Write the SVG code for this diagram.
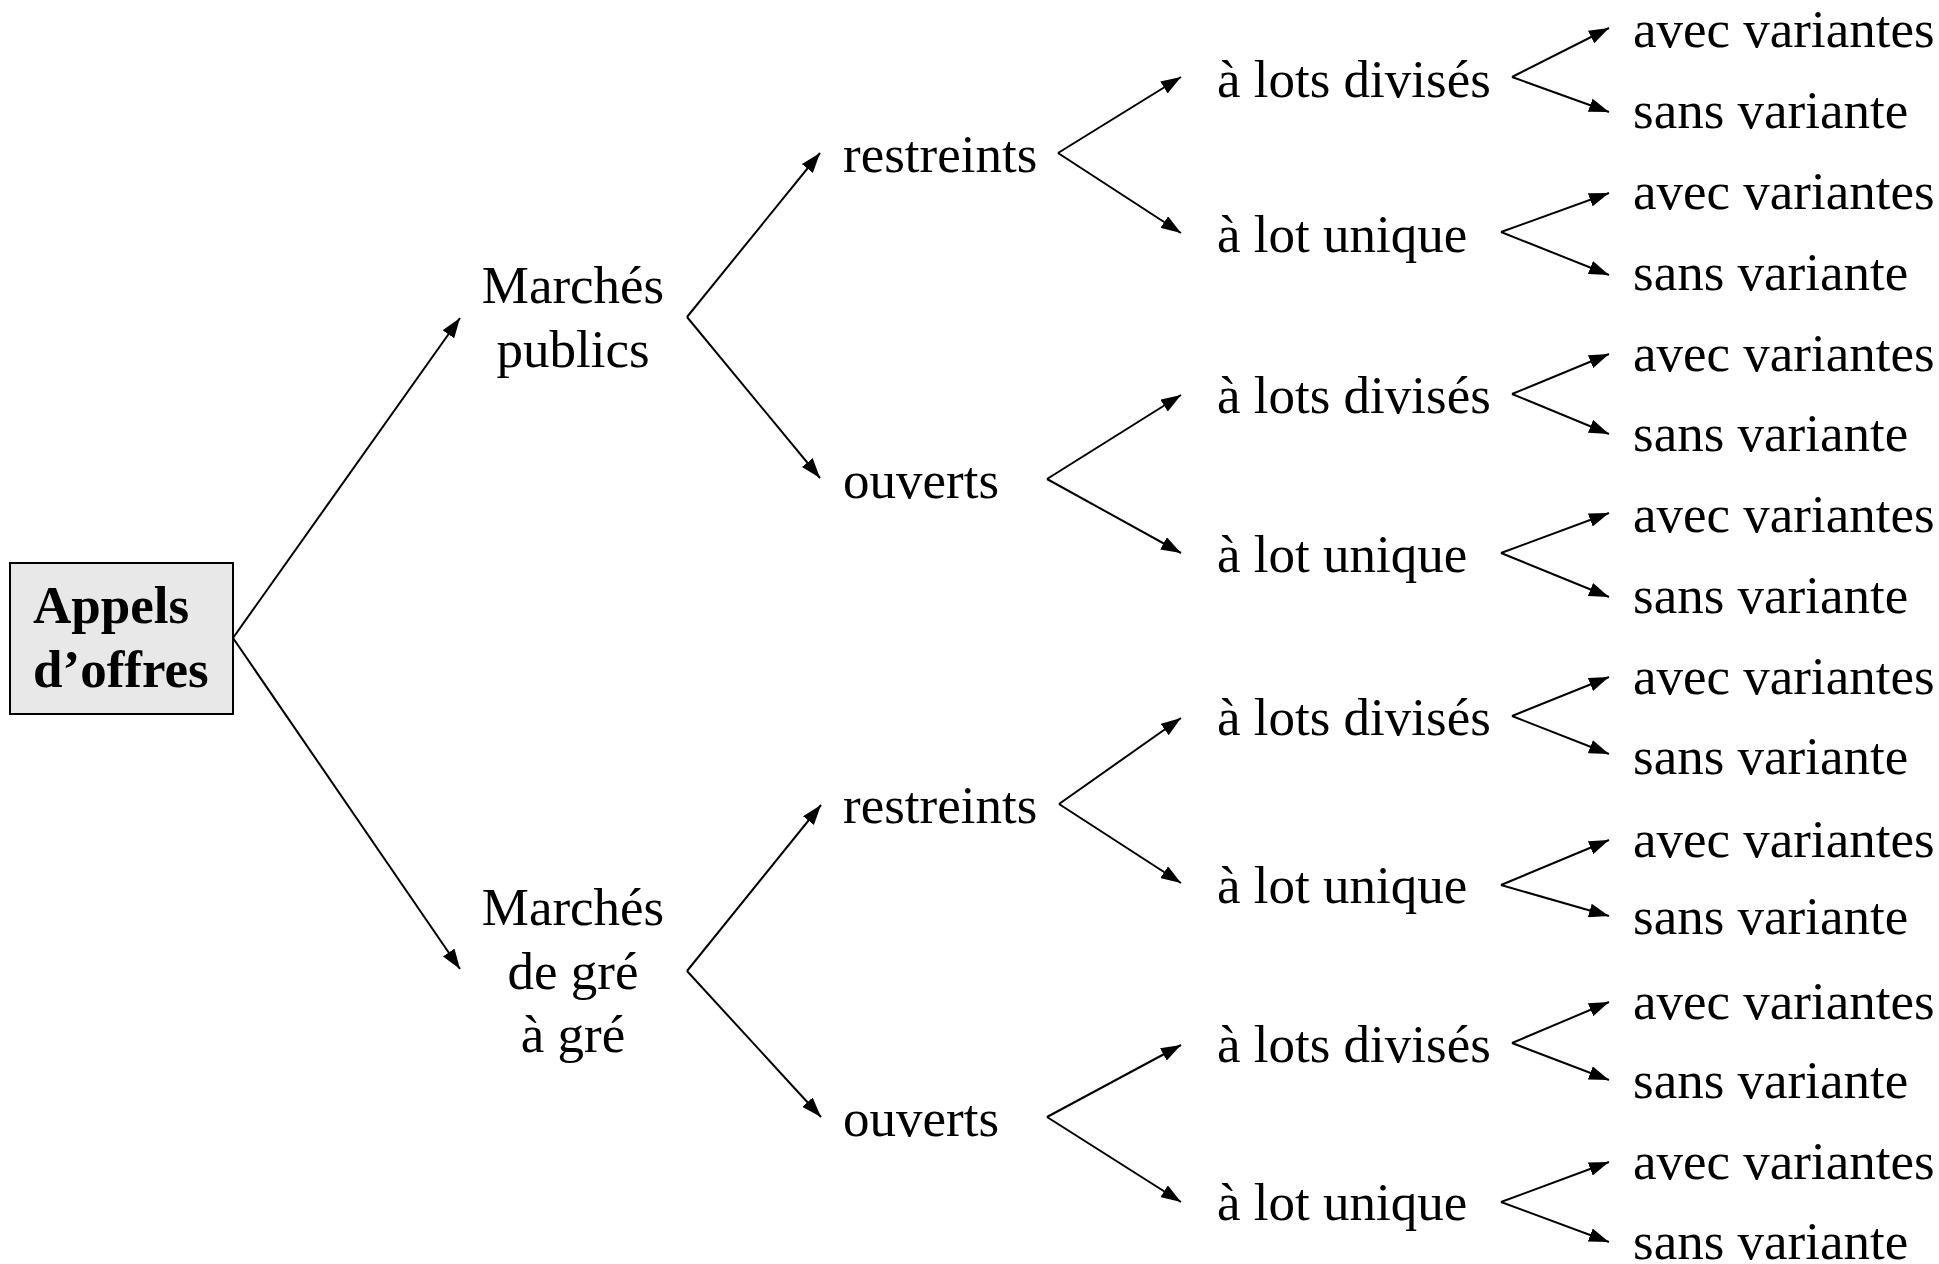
<svg xmlns="http://www.w3.org/2000/svg" width="1939" height="1264" viewBox="0 0 1939 1264">
  <style>
    text { font-family: "Liberation Serif", "Times New Roman", serif; font-size: 53px; fill: #000; }
    .title { font-weight: bold; }
    .mid { text-anchor: middle; }
    .conn line { stroke: #000; stroke-width: 2; marker-end: url(#arrow); }
  </style>
  <defs>
    <marker id="arrow" markerUnits="userSpaceOnUse" markerWidth="20" markerHeight="14" refX="20" refY="7" orient="auto">
      <path d="M0,0 L20,7 L0,14 z" fill="#000"/>
    </marker>
  </defs>
  <rect width="1939" height="1264" fill="#fff"/>

  <!-- root -->
  <g id="appels-offres">
    <rect x="10" y="563" width="223" height="151" fill="#e8e8e8" stroke="#000" stroke-width="2"/>
    <text class="title" x="33" y="623">Appels</text>
    <text class="title" x="33" y="687">d’offres</text>
  </g>

  <!-- level 1 -->
  <g id="marches-publics">
    <text class="mid" x="573" y="303">Marchés</text>
    <text class="mid" x="573" y="367">publics</text>
  </g>
  <g id="marches-gre-a-gre">
    <text class="mid" x="573" y="925">Marchés</text>
    <text class="mid" x="573" y="989">de gré</text>
    <text class="mid" x="573" y="1052">à gré</text>
  </g>

  <!-- level 2 -->
  <g id="pub-restreints"><text x="843" y="172">restreints</text></g>
  <g id="pub-ouverts"><text x="843" y="498">ouverts</text></g>
  <g id="gre-restreints"><text x="843" y="823">restreints</text></g>
  <g id="gre-ouverts"><text x="843" y="1136">ouverts</text></g>

  <!-- level 3 -->
  <g id="pr-divises"><text x="1217" y="97">à lots divisés</text></g>
  <g id="pr-unique"><text x="1217" y="252">à lot unique</text></g>
  <g id="po-divises"><text x="1217" y="413">à lots divisés</text></g>
  <g id="po-unique"><text x="1217" y="572">à lot unique</text></g>
  <g id="gr-divises"><text x="1217" y="735">à lots divisés</text></g>
  <g id="gr-unique"><text x="1217" y="903">à lot unique</text></g>
  <g id="go-divises"><text x="1217" y="1062">à lots divisés</text></g>
  <g id="go-unique"><text x="1217" y="1220">à lot unique</text></g>

  <!-- level 4 -->
  <g id="pr-divises-avec"><text x="1633" y="47">avec variantes</text></g>
  <g id="pr-divises-sans"><text x="1633" y="128">sans variante</text></g>
  <g id="pr-unique-avec"><text x="1633" y="209">avec variantes</text></g>
  <g id="pr-unique-sans"><text x="1633" y="290">sans variante</text></g>
  <g id="po-divises-avec"><text x="1633" y="371">avec variantes</text></g>
  <g id="po-divises-sans"><text x="1633" y="451">sans variante</text></g>
  <g id="po-unique-avec"><text x="1633" y="532">avec variantes</text></g>
  <g id="po-unique-sans"><text x="1633" y="613">sans variante</text></g>
  <g id="gr-divises-avec"><text x="1633" y="694">avec variantes</text></g>
  <g id="gr-divises-sans"><text x="1633" y="774">sans variante</text></g>
  <g id="gr-unique-avec"><text x="1633" y="857">avec variantes</text></g>
  <g id="gr-unique-sans"><text x="1633" y="934">sans variante</text></g>
  <g id="go-divises-avec"><text x="1633" y="1019">avec variantes</text></g>
  <g id="go-divises-sans"><text x="1633" y="1098">sans variante</text></g>
  <g id="go-unique-avec"><text x="1633" y="1179">avec variantes</text></g>
  <g id="go-unique-sans"><text x="1633" y="1259">sans variante</text></g>

  <!-- connectors -->
  <g id="connectors" class="conn">
    <!-- root -> level 1 -->
    <line x1="233" y1="638" x2="460" y2="318"/>
    <line x1="233" y1="638" x2="460" y2="969"/>
    <!-- level 1 -> level 2 -->
    <line x1="687" y1="317" x2="820" y2="153"/>
    <line x1="687" y1="317" x2="820" y2="478"/>
    <line x1="687" y1="971" x2="821" y2="805"/>
    <line x1="687" y1="971" x2="821" y2="1117"/>
    <!-- level 2 -> level 3 -->
    <line x1="1058" y1="153" x2="1181" y2="77"/>
    <line x1="1058" y1="153" x2="1181" y2="233"/>
    <line x1="1047" y1="479" x2="1181" y2="395"/>
    <line x1="1047" y1="479" x2="1181" y2="553"/>
    <line x1="1059" y1="804" x2="1181" y2="718"/>
    <line x1="1059" y1="804" x2="1181" y2="883"/>
    <line x1="1047" y1="1117" x2="1181" y2="1045"/>
    <line x1="1047" y1="1117" x2="1181" y2="1202"/>
    <!-- level 3 -> level 4 -->
    <line x1="1512" y1="77" x2="1609" y2="28"/>
    <line x1="1512" y1="77" x2="1609" y2="112"/>
    <line x1="1501" y1="232" x2="1609" y2="193"/>
    <line x1="1501" y1="232" x2="1609" y2="275"/>
    <line x1="1512" y1="394" x2="1609" y2="354"/>
    <line x1="1512" y1="394" x2="1609" y2="434"/>
    <line x1="1501" y1="553" x2="1609" y2="513"/>
    <line x1="1501" y1="553" x2="1609" y2="597"/>
    <line x1="1512" y1="716" x2="1609" y2="677"/>
    <line x1="1512" y1="716" x2="1609" y2="754"/>
    <line x1="1501" y1="885" x2="1609" y2="840"/>
    <line x1="1501" y1="885" x2="1609" y2="916"/>
    <line x1="1512" y1="1043" x2="1609" y2="1002"/>
    <line x1="1512" y1="1043" x2="1609" y2="1080"/>
    <line x1="1501" y1="1202" x2="1609" y2="1162"/>
    <line x1="1501" y1="1202" x2="1609" y2="1242"/>
  </g>
</svg>
